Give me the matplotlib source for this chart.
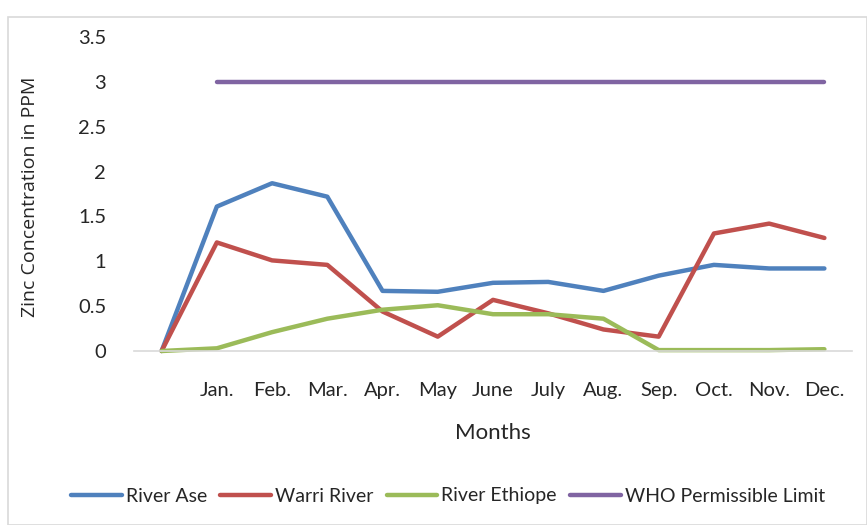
import matplotlib
matplotlib.use("Agg")
import matplotlib.pyplot as plt
import numpy as np
from matplotlib.patches import Rectangle

categories = ["", "Jan.", "Feb.", "Mar.", "Apr.", "May", "June", "July", "Aug.", "Sep.", "Oct.", "Nov.", "Dec."]
river_ase = [0, 1.61, 1.87, 1.72, 0.67, 0.66, 0.76, 0.77, 0.67, 0.84, 0.96, 0.92, 0.92]
warri_river = [0, 1.21, 1.01, 0.96, 0.44, 0.16, 0.57, 0.42, 0.24, 0.16, 1.31, 1.42, 1.26]
river_ethiope = [0, 0.03, 0.21, 0.36, 0.46, 0.51, 0.41, 0.41, 0.36, 0.01, 0.01, 0.01, 0.02]
who_limit = [np.nan, 3, 3, 3, 3, 3, 3, 3, 3, 3, 3, 3, 3]
yticks = [0, 0.5, 1, 1.5, 2, 2.5, 3, 3.5]
ytick_labels = ["0", "0.5", "1", "1.5", "2", "2.5", "3", "3.5"]

W, H = 867, 525
fig = plt.figure(figsize=(W / 100, H / 100), dpi=100)
fig.patches.append(Rectangle((8 / W, 0), (W - 8) / W, (H - 17) / H, transform=fig.transFigure,
                             fill=False, edgecolor="#d9d9d9", linewidth=1.2))

ax = fig.add_axes([134 / W, 1 - 351 / H, (852 - 134) / W, (351 - 37) / H])
x = np.arange(len(categories))
series = [
    (river_ase, "River Ase", "#4F81BD"),
    (warri_river, "Warri River", "#C0504D"),
    (river_ethiope, "River Ethiope", "#9BBB59"),
    (who_limit, "WHO Permissible Limit", "#8064A2"),
]
for vals, name, col in series:
    ax.plot(x, vals, color=col, linewidth=3.2, label=name, solid_capstyle="round", solid_joinstyle="round")

ax.set_xlim(-0.5, len(categories) - 0.5)
ax.set_ylim(0, 3.5)
ax.set_yticks(yticks)
ax.set_yticklabels(ytick_labels)
ax.set_xticks(x)
ax.set_xticklabels(categories)

font = "Lato"
for lab in ax.get_xticklabels() + ax.get_yticklabels():
    lab.set_fontfamily(font)
    lab.set_fontsize(14.5)
    lab.set_color("#262626")
ax.tick_params(axis="x", length=0, pad=22)
ax.tick_params(axis="y", length=0, pad=20)
for s in ["top", "right", "left"]:
    ax.spines[s].set_visible(False)
ax.spines["bottom"].set_color("#d9d9d9")
ax.spines["bottom"].set_linewidth(1.2)
for l in ax.lines:
    l.set_clip_on(False)

fig.text(30 / W, 1 - 197 / H, "Zinc Concentration in PPM", rotation=90, ha="center", va="center",
         fontsize=14, family="Open Sans", color="#262626")
fig.text(493 / W, 1 - 433 / H, "Months", ha="center", va="center", fontsize=16, family=font, color="#262626")

leg = fig.legend(loc="center", bbox_to_anchor=(448 / W, 1 - 496 / H), ncol=4, frameon=False,
                 prop={"family": font, "size": 14}, handlelength=2.6, handletextpad=0.2, columnspacing=0.7)
for t in leg.get_texts():
    t.set_color("#262626")

fig.savefig("out.png", dpi=100)
